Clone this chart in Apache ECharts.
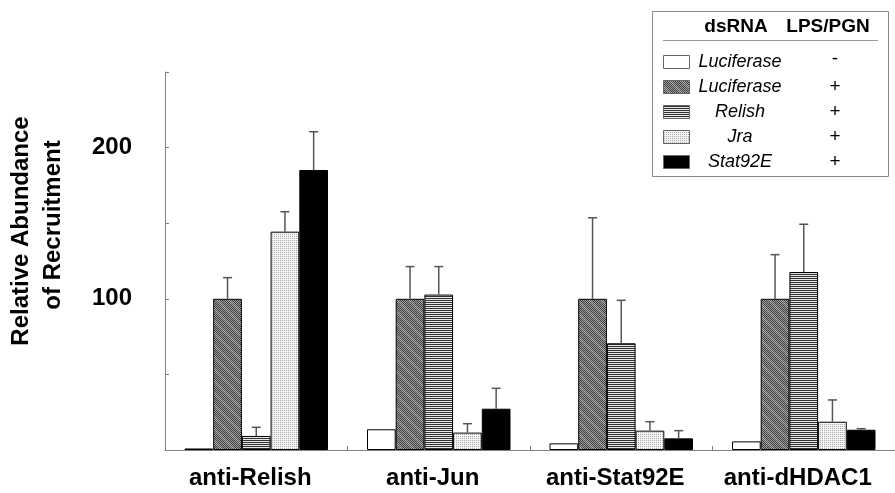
<!DOCTYPE html>
<html>
<head>
<meta charset="utf-8">
<script src="https://cdn.jsdelivr.net/npm/echarts@6/dist/echarts.min.js"></script>
<style>
  html, body { margin: 0; padding: 0; background: #fff; }
  #chart { width: 895px; height: 493px; }
</style>
</head>
<body>
<div id="chart"></div>
<script>
const categories = ['anti-Relish', 'anti-Jun', 'anti-Stat92E', 'anti-dHDAC1'];
const dsRNA = ['Luciferase', 'Luciferase', 'Relish', 'Jra', 'Stat92E'];
const lpsSigns = ['-', '+', '+', '+', '+'];
const yTickLabels = [100, 200];

// mean values per series (one value per category)
const lucMinus = [1, 13.7, 4.4, 5.7];
const lucPlus = [100, 100, 100, 100];
const relish = [9.3, 102.8, 70.6, 117.7];
const jra = [144.4, 11.5, 12.8, 18.7];
const stat92e = [185.2, 27.3, 7.7, 13.4];

// upper error bars
const errLucMinus = [0, 0, 0, 0];
const errLucPlus = [14, 21.3, 53.6, 29.2];
const errRelish = [5.7, 18.5, 28.4, 31.6];
const errJra = [13.2, 5.9, 5.9, 14.4];
const errStat92e = [25.3, 13.5, 5.1, 0.7];

const FONT = 'Liberation Sans, Arial, Helvetica, sans-serif';
const barW = 28.7;

function makePattern(w, h, pix) {
  const c = document.createElement('canvas');
  c.width = w;
  c.height = h;
  const ctx = c.getContext('2d');
  for (let y = 0; y < h; y++) {
    for (let x = 0; x < w; x++) {
      ctx.fillStyle = pix(x, y);
      ctx.fillRect(x, y, 1, 1);
    }
  }
  return { image: c, repeat: 'repeat' };
}

// fills for the five treatments
const fills = [
  '#ffffff',
  makePattern(12, 12, (x, y) => {
    const odd = (x + y) % 2;
    if ((x - y + 24) % 12 < 3) return odd ? '#b0b0b0' : '#5a5a5a';
    return odd ? '#a0a0a0' : '#3c3c3c';
  }),
  makePattern(1, 2, (x, y) => (y === 0 ? '#333' : '#e6e6e6')),
  makePattern(2, 2, (x, y) => (x === 0 && y === 0 ? '#a8a8a8' : '#f6f6f6')),
  '#000000'
];

const values = [lucMinus, lucPlus, relish, jra, stat92e];
const errors = [errLucMinus, errLucPlus, errRelish, errJra, errStat92e];

const errData = [];
values.forEach((arr, k) => {
  arr.forEach((v, i) => {
    if (errors[k][i] > 0) errData.push([i, v, k, v + errors[k][i]]);
  });
});

const barSeries = values.map((arr, k) => ({
  name: dsRNA[k] + lpsSigns[k],
  type: 'bar',
  data: arr,
  barWidth: barW,
  barGap: '0%',
  itemStyle: { color: fills[k], borderColor: '#000', borderWidth: 1 }
}));

// legend drawn as a small table (two columns: dsRNA / LPS-PGN)
const legendEls = [
  { type: 'rect', shape: { x: 652.5, y: 11.5, width: 236, height: 165 },
    style: { fill: '#fff', stroke: '#888', lineWidth: 1 }, z: 10 },
  { type: 'text', x: 736, y: 27, z: 11,
    style: { text: 'dsRNA', font: 'bold 19px ' + FONT, fill: '#000', align: 'center', verticalAlign: 'middle' } },
  { type: 'text', x: 828, y: 27, z: 11,
    style: { text: 'LPS/PGN', font: 'bold 19px ' + FONT, fill: '#000', align: 'center', verticalAlign: 'middle' } },
  { type: 'line', shape: { x1: 663, y1: 40.5, x2: 878, y2: 40.5 },
    style: { stroke: '#999', lineWidth: 1 }, z: 11 }
];
dsRNA.forEach((name, i) => {
  const cy = 62 + 25 * i;
  legendEls.push(
    { type: 'rect', shape: { x: 663.5, y: cy - 6.5, width: 26, height: 13 },
      style: { fill: fills[i], stroke: '#666', lineWidth: 1 }, z: 11 },
    { type: 'text', x: 740, y: cy, z: 11,
      style: { text: name, font: 'italic 18px ' + FONT, fill: '#000', align: 'center', verticalAlign: 'middle' } },
    { type: 'text', x: 835, y: cy - (lpsSigns[i] === '-' ? 3 : 0), z: 11,
      style: { text: lpsSigns[i], font: '19px ' + FONT, fill: '#000', align: 'center', verticalAlign: 'middle' } }
  );
});

const chart = echarts.init(document.getElementById('chart'));
chart.setOption({
  animation: false,
  backgroundColor: '#fff',
  grid: { left: 165, top: 72, width: 738, bottom: 43 },
  xAxis: {
    type: 'category',
    data: categories,
    axisLine: { lineStyle: { color: '#808080', width: 1 } },
    axisTick: { show: true, inside: true, length: 4, lineStyle: { color: '#808080' } },
    axisLabel: {
      interval: 0, hideOverlap: false,
      color: '#000', fontFamily: FONT, fontWeight: 'bold', fontSize: 24,
      margin: 16, padding: [0, 12, 0, 0]
    }
  },
  yAxis: {
    type: 'value',
    min: 0,
    max: 250,
    interval: 50,
    splitLine: { show: false },
    axisLine: { show: true, lineStyle: { color: '#808080', width: 1 } },
    axisTick: { show: true, inside: true, length: 4, lineStyle: { color: '#808080' } },
    axisLabel: {
      color: '#000', fontFamily: FONT, fontWeight: 'bold', fontSize: 24, margin: 33,
      formatter: (v) => (yTickLabels.includes(v) ? String(v) : '')
    }
  },
  series: barSeries.concat([{
    type: 'custom',
    data: errData,
    encode: { x: 0, y: 1 },
    z: 5,
    renderItem: function (params, api) {
      const cat = api.value(0);
      const k = api.value(2);
      const base = api.coord([cat, api.value(1)]);
      const end = api.coord([cat, api.value(3)]);
      const x = base[0] + (k - 2) * barW;
      const st = { stroke: '#555', lineWidth: 1.5 };
      return {
        type: 'group',
        children: [
          { type: 'line', shape: { x1: x, y1: base[1], x2: x, y2: end[1] }, style: st },
          { type: 'line', shape: { x1: x - 4.5, y1: end[1], x2: x + 4.5, y2: end[1] }, style: st }
        ]
      };
    }
  }]),
  graphic: [
    { type: 'text', x: 21, y: 231, rotation: Math.PI / 2,
      style: { text: 'Relative Abundance', font: 'bold 24px ' + FONT, fill: '#000', align: 'center', verticalAlign: 'middle' } },
    { type: 'text', x: 53, y: 225, rotation: Math.PI / 2,
      style: { text: 'of Recruitment', font: 'bold 24px ' + FONT, fill: '#000', align: 'center', verticalAlign: 'middle' } }
  ].concat(legendEls)
});
</script>
</body>
</html>
